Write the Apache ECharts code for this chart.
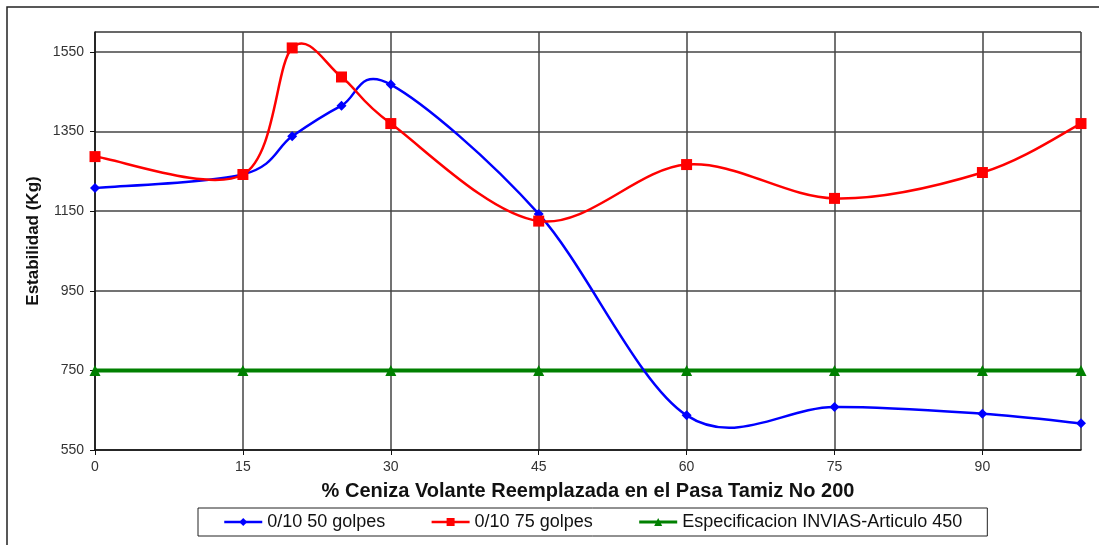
<!DOCTYPE html>
<html>
<head>
<meta charset="utf-8">
<script src="https://cdn.jsdelivr.net/npm/echarts@6/dist/echarts.min.js"></script>
<style>
  html, body { margin: 0; padding: 0; background: #fff; }
  #chart { width: 1099px; height: 545px; }
</style>
</head>
<body>
<div id="chart"></div>
<script>
// data
const xValues = [0, 15, 20, 25, 30, 45, 60, 75, 90, 100];
const golpes50 = [1208, 1242, 1338, 1415, 1468, 1143, 637, 658, 641, 617];
const golpes75 = [1287, 1242, 1560, 1487, 1370, 1125, 1267, 1182, 1247, 1370];
const specX = [0, 15, 30, 45, 60, 75, 90, 100];
const specY = [750, 750, 750, 750, 750, 750, 750, 750];

const seriesNames = ['0/10 50 golpes', '0/10 75 golpes', 'Especificacion INVIAS-Articulo 450'];
const colors = ['#0000ff', '#ff0000', '#008000'];

const pairs = (xs, ys) => xs.map((x, i) => [x, ys[i]]);

const chart = echarts.init(document.getElementById('chart'));
const font = 'Liberation Sans, Arial, sans-serif';

// excel style smoothed line: catmull-rom bezier through the pixel coords
const smoothCurve = (xs, ys, color, width) => (params, api) => {
  const p = xs.map((x, i) => api.coord([x, ys[i]]));
  const n = p.length;
  const children = [];
  for (let i = 0; i < n - 1; i++) {
    const a = p[Math.max(i - 1, 0)], b = p[i], c = p[i + 1], d = p[Math.min(i + 2, n - 1)];
    children.push({
      type: 'bezierCurve',
      shape: {
        x1: b[0], y1: b[1], x2: c[0], y2: c[1],
        cpx1: b[0] + (c[0] - a[0]) / 6, cpy1: b[1] + (c[1] - a[1]) / 6,
        cpx2: c[0] - (d[0] - b[0]) / 6, cpy2: c[1] - (d[1] - b[1]) / 6
      },
      style: { stroke: color, lineWidth: width, fill: null }
    });
  }
  return { type: 'group', children };
};

const option = {
  animation: false,
  textStyle: { fontFamily: font },
  graphic: [
    {
      type: 'polyline',
      shape: { points: [[7, 545], [7, 7], [1099, 7]] },
      style: { stroke: '#222', lineWidth: 1.5, fill: null }
    }
  ],
  grid: {
    left: 95,
    right: 18,
    top: 32,
    bottom: 95,
    show: true,
    borderColor: '#aaa',
    borderWidth: 1
  },
  legend: {
    data: seriesNames.map((name, i) => ({
      name,
      itemStyle: { color: colors[i] },
      lineStyle: { color: colors[i], width: i === 2 ? 3 : 2.5, opacity: 1 }
    })),
    left: 198,
    top: 508,
    padding: [5, 25, 5, 25],
    itemGap: 45,
    itemWidth: 38,
    itemHeight: 10,
    borderColor: '#222',
    borderWidth: 1,
    textStyle: { fontSize: 18, color: '#111', fontFamily: font }
  },
  xAxis: {
    type: 'value',
    min: 0,
    max: 100,
    interval: 15,
    name: '% Ceniza Volante Reemplazada en el Pasa Tamiz No 200',
    nameLocation: 'middle',
    nameGap: 31,
    nameTextStyle: { fontSize: 20, fontWeight: 'bold', color: '#111' },
    axisLine: { lineStyle: { color: '#111', width: 1.5 } },
    axisTick: { show: true, length: 5, lineStyle: { color: '#111' } },
    axisLabel: { fontSize: 14, color: '#333', margin: 10, showMaxLabel: false },
    splitLine: { show: true, lineStyle: { color: '#444', width: 1.5 } }
  },
  yAxis: {
    type: 'value',
    min: 550,
    max: 1600,
    interval: 200,
    name: 'Estabilidad (Kg)',
    nameLocation: 'middle',
    nameGap: 52,
    nameTextStyle: { fontSize: 17, fontWeight: 'bold', color: '#111' },
    axisLine: { show: true, lineStyle: { color: '#111', width: 1.5 } },
    axisTick: { show: true, length: 5, lineStyle: { color: '#111' } },
    axisLabel: { fontSize: 14, color: '#333', margin: 11, showMaxLabel: false, formatter: v => String(v) },
    splitLine: { show: true, lineStyle: { color: '#444', width: 1.5 } }
  },
  series: [
    {
      name: 'curve50',
      type: 'custom',
      data: [[0, golpes50[0]]],
      renderItem: smoothCurve(xValues, golpes50, colors[0], 2.5),
      z: 3
    },
    {
      name: 'curve75',
      type: 'custom',
      data: [[0, golpes75[0]]],
      renderItem: smoothCurve(xValues, golpes75, colors[1], 2.5),
      z: 5
    },
    {
      name: seriesNames[0],
      type: 'line',
      data: pairs(xValues, golpes50),
      symbol: 'diamond',
      symbolSize: 10,
      itemStyle: { color: colors[0] },
      lineStyle: { opacity: 0 },
      z: 4
    },
    {
      name: seriesNames[1],
      type: 'line',
      data: pairs(xValues, golpes75),
      symbol: 'rect',
      symbolSize: 11,
      itemStyle: { color: colors[1] },
      lineStyle: { opacity: 0 },
      z: 6
    },
    {
      name: seriesNames[2],
      type: 'line',
      data: pairs(specX, specY),
      symbol: 'triangle',
      symbolSize: 11,
      itemStyle: { color: colors[2] },
      lineStyle: { color: colors[2], width: 4 },
      z: 2
    }
  ]
};

chart.setOption(option);
</script>
</body>
</html>
